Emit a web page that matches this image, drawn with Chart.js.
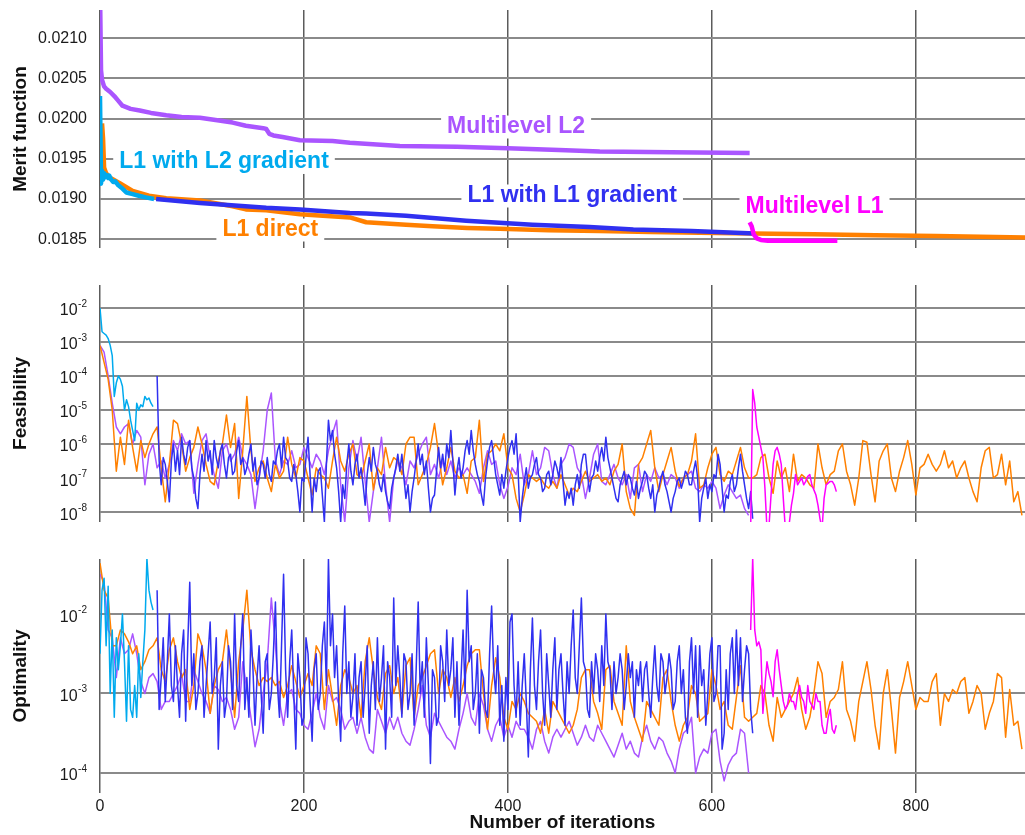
<!DOCTYPE html>
<html>
<head>
<meta charset="utf-8">
<script src="https://cdn.jsdelivr.net/npm/chart.js@4.4.1/dist/chart.umd.min.js"></script>
<style>
  html, body { margin: 0; padding: 0; background: #fff; }
  body { width: 1025px; height: 835px; overflow: hidden; position: relative; }
  canvas { position: absolute; left: 0; }
</style>
</head>
<body>
<canvas id="meritChart" width="1025" height="258" style="top:0px"></canvas>
<canvas id="feasChart" width="1025" height="257" style="top:275px"></canvas>
<canvas id="optChart" width="1025" height="286" style="top:549px"></canvas>
<script>
// ---------- series names and colours ----------
const SERIES = ['Multilevel L2', 'L1 with L2 gradient', 'L1 with L1 gradient', 'L1 direct', 'Multilevel L1'];
const COLORS = ['#aa55ff', '#00aaee', '#3030f0', '#ff8000', '#ff00ff'];

// ---------- axis ticks ----------
const iterTicks = [0, 200, 400, 600, 800];
const meritTicks = [0.0185, 0.0190, 0.0195, 0.0200, 0.0205, 0.0210];
const feasTickPowers = [-8, -7, -6, -5, -4, -3, -2];
const optTickPowers = [-4, -3, -2];

// ---------- merit function (iteration, value) ----------
const meritItersML2 = [0, 1, 2, 4, 6, 10, 14, 18, 22, 30, 39, 50, 65, 80, 98, 115, 130, 143, 160, 163, 166, 170, 179, 196, 228, 245, 294, 350, 400, 450, 490, 560, 637];
const meritML2 = [0.0216, 0.02060, 0.02048, 0.02040, 0.02037, 0.02033, 0.02028, 0.02022, 0.02016, 0.02012, 0.02010, 0.02007, 0.02004, 0.02002, 0.02001, 0.01998, 0.01995, 0.01991, 0.01988, 0.01987, 0.01981, 0.01979, 0.01977, 0.01973, 0.01972, 0.01970, 0.01966, 0.01965, 0.01963, 0.01961, 0.01959, 0.01958, 0.01957];

const meritItersL1L2 = [0, 1, 2, 3, 4, 5, 6, 8, 9, 11, 13, 15, 18, 21, 26, 32, 38, 45, 53];
const meritL1L2 = [0.02028, 0.01919, 0.01935, 0.01924, 0.01932, 0.01927, 0.01930, 0.01926, 0.01929, 0.01924, 0.01921, 0.01922, 0.01917, 0.01914, 0.01908, 0.01906, 0.01904, 0.01902, 0.01900];

const meritItersL1L1 = [55, 98, 163, 196, 245, 261, 300, 359, 424, 480, 523, 580, 642];
const meritL1L1 = [0.01900, 0.01895, 0.01889, 0.01887, 0.018825, 0.01882, 0.01879, 0.01873, 0.01868, 0.01865, 0.01862, 0.01860, 0.01857];

const meritItersL1Direct = [2, 3, 4, 6, 9, 19, 32, 48, 65, 98, 130, 143, 163, 196, 245, 261, 300, 326, 360, 392, 440, 490, 540, 588, 640, 700, 760, 820, 907];
const meritL1Direct = [0.01994, 0.01975, 0.01939, 0.01932, 0.01927, 0.01920, 0.01910, 0.01904, 0.01901, 0.01898, 0.01891, 0.01887, 0.01886, 0.01881, 0.01877, 0.01871, 0.01868, 0.01866, 0.01864, 0.01863, 0.01861, 0.01860, 0.01859, 0.01858, 0.01857, 0.01856, 0.01855, 0.01854, 0.01852];

const meritItersML1 = [637, 639, 641, 644, 648, 655, 723];
const meritML1 = [0.01871, 0.01866, 0.01856, 0.01851, 0.01849, 0.01848, 0.01848];

// ---------- sampling of the per-iteration logs: [first iteration, stride] ----------
const sampleML2 = [0, 4];
const sampleL1L2 = [0, 2];
const sampleL1L1 = [56, 2];
const sampleL1Direct = [0, 4];
const sampleML1 = [638, 2];

// ---------- feasibility, log10 of the value ----------
const feasML2 = [
  -3.1, -3.3, -4.0, -4.8, -5.5, -5.7, -5.5, -5.4, -6.0, -5.6,
  -5.8, -7.2, -6.3, -6.0, -6.7, -6.5, -7.0, -6.6, -5.9, -6.2,
  -5.7, -6.0, -5.9, -7.45, -6.6, -5.9, -5.7, -6.4, -6.9, -7.3,
  -6.2, -6.0, -6.5, -6.3, -5.8, -6.4, -6.6, -6.9, -7.9, -7.0,
  -6.2, -5.0, -4.5, -6.5, -6.9, -6.5, -6.6, -6.2, -6.7, -6.6,
  -6.1, -6.4, -6.7, -6.3, -6.5, -6.9, -6.2, -5.7, -5.3, -7.2,
  -8.3, -6.7, -5.9, -6.5, -5.8, -7.1, -8.3, -7.4, -6.7, -5.8,
  -7.2, -8.3, -7.0, -6.5, -6.7, -7.2, -6.5, -6.7, -6.3, -6.0,
  -5.8, -6.9, -6.6, -7.0, -6.5, -6.9, -6.5, -7.0, -6.7, -6.9,
  -6.7, -6.9, -7.1, -7.45, -6.7, -6.2, -6.6, -6.5, -7.2, -7.6,
  -7.25, -6.7, -6.9, -6.3, -7.2, -6.9, -6.2, -6.9, -6.7, -6.1,
  -6.2, -6.9, -7.3, -6.6, -6.4, -6.0, -6.1, -6.7, -6.9, -7.6,
  -7.0, -6.3, -6.0, -7.1, -7.2, -6.9, -6.6, -7.0, -7.2, -6.9,
  -7.6, -6.7, -6.6, -7.4, -6.9, -7.1, -6.7, -7.0, -6.9, -7.2,
  -6.9, -7.0, -7.3, -7.0, -6.9, -6.8, -7.3, -7.4, -7.2, -7.3,
  -7.1, -7.3, -7.9, -7.5, -7.2, -7.4, -7.6, -7.5, -7.9, -8.1
];
const feasL1L2 = [
  -2.0, -2.7, -2.75, -2.8, -2.9, -3.1, -3.4, -4.6, -4.2, -4.0,
  -4.1, -4.3, -5.0, -4.7, -4.9, -5.3, -5.6, -5.9, -4.8, -5.0,
  -4.85, -4.9, -4.6, -4.7, -4.65, -4.8, -4.9
];
const feasL1L1 = [
  -4.0, -6.5, -7.2, -6.4, -6.6, -7.1, -7.7, -6.5, -6.0, -6.8,
  -6.2, -6.9, -5.8, -6.3, -6.6, -6.1, -5.9, -6.7, -7.0, -7.6,
  -7.9, -6.9, -6.3, -6.8, -5.9, -6.5, -6.2, -6.9, -5.9, -6.4,
  -6.7, -6.2, -6.0, -6.6, -7.0, -6.4, -6.3, -6.9, -6.8, -6.2,
  -5.9, -6.6, -6.4, -6.9, -6.7, -6.3, -6.0, -6.8, -6.4, -7.2,
  -7.0, -6.5, -6.6, -7.0, -6.4, -6.9, -7.1, -6.5, -6.6, -6.2,
  -6.0, -6.7, -5.8, -6.4, -6.5, -7.0, -7.1, -6.6, -6.9, -7.4,
  -8.0, -7.0, -7.1, -6.4, -5.8, -6.9, -8.0, -7.0, -7.4, -6.8,
  -6.7, -7.5, -8.3, -6.6, -5.3, -5.9, -5.6, -6.3, -6.7, -7.4,
  -8.3, -7.2, -7.6, -6.6, -6.0, -6.8, -7.2, -6.6, -6.3, -7.0,
  -6.7, -7.2, -7.8, -6.9, -6.4, -6.8, -6.1, -6.6, -6.8, -7.2,
  -7.4, -6.9, -7.4, -7.7, -7.9, -7.3, -7.0, -6.7, -6.3, -6.8,
  -6.3, -7.0, -7.6, -7.2, -8.0, -7.4, -7.0, -6.5, -6.0, -6.6,
  -6.3, -6.9, -6.5, -7.3, -8.0, -7.6, -7.5, -6.8, -6.1, -6.7,
  -6.3, -6.8, -6.0, -6.4, -5.6, -6.5, -7.5, -6.8, -6.4, -7.0,
  -6.7, -6.2, -5.9, -6.3, -5.6, -6.2, -6.6, -6.9, -7.1, -7.5,
  -7.8, -7.0, -6.5, -6.1, -5.9, -6.4, -6.9, -7.2, -7.5, -6.9,
  -7.3, -6.8, -6.4, -6.1, -5.9, -6.3, -5.7, -6.8, -8.3, -7.6,
  -7.1, -6.7, -7.3, -7.0, -6.9, -6.6, -6.4, -6.9, -7.0, -7.4,
  -7.3, -6.9, -6.8, -7.2, -6.9, -6.5, -6.7, -7.0, -6.4, -7.1,
  -7.8, -7.4, -7.6, -7.3, -7.8, -7.2, -6.9, -7.3, -6.6, -6.3,
  -6.3, -6.9, -7.4, -7.0, -6.9, -6.5, -6.8, -6.4, -6.1, -6.5,
  -5.8, -6.4, -6.7, -7.0, -7.3, -7.6, -7.7, -7.2, -7.0, -6.8,
  -7.2, -6.9, -7.0, -7.3, -7.5, -7.1, -7.6, -7.3, -7.1, -6.8,
  -6.9, -7.3, -7.6, -7.2, -8.0, -7.5, -7.3, -7.0, -6.8, -7.2,
  -7.4, -7.7, -8.0, -7.6, -7.4, -7.1, -7.0, -7.3, -7.1, -6.8,
  -6.9, -7.2, -7.2, -6.8, -6.5, -7.0, -8.3, -7.6, -7.3, -7.0,
  -7.6, -7.2, -7.4, -6.9, -7.0, -6.3, -6.6, -7.3, -8.0, -7.5,
  -7.6, -7.1, -6.9, -7.4, -7.2, -6.7, -6.3, -6.8, -7.2, -7.6,
  -7.9, -7.4, -8.2
];
const feasL1Direct = [
  -3.1, -3.6, -4.1, -5.0, -6.8, -5.8, -6.6, -5.3, -6.1, -6.8,
  -5.9, -6.4, -6.0, -5.7, -5.5, -6.7, -7.7, -6.6, -5.3, -5.4,
  -6.0, -6.8, -6.4, -6.1, -5.5, -6.0, -6.6, -7.1, -7.2, -6.5,
  -6.0, -5.15, -6.1, -5.4, -7.6, -6.2, -4.6, -6.2, -7.1, -6.7,
  -6.5, -7.0, -7.4, -6.6, -7.0, -6.8, -5.8, -6.6, -7.0, -6.4,
  -6.5, -7.0, -7.5, -6.7, -6.9, -7.0, -7.3, -6.5, -5.8, -6.5,
  -6.8, -6.3, -6.0, -6.9, -7.0, -6.5, -6.0, -7.35, -6.7, -6.9,
  -6.1, -6.7, -6.4, -6.5, -6.9, -6.0, -5.8, -5.8, -7.2, -6.9,
  -6.6, -6.1, -5.4, -6.3, -7.2, -6.7, -6.1, -6.8, -7.0, -6.9,
  -7.45, -6.5, -6.4, -5.3, -7.1, -6.3, -6.2, -6.0, -6.2, -5.7,
  -6.7, -6.9, -7.6, -8.0, -7.5, -6.9, -7.0, -7.1, -7.0, -7.2,
  -7.3, -7.1, -7.3, -6.9, -7.2, -7.5, -7.3, -7.4, -7.1, -6.8,
  -7.1, -7.0, -6.9, -7.1, -7.0, -7.2, -6.8, -6.6, -6.0, -7.4,
  -7.9, -8.1, -6.6, -6.4, -6.0, -5.6, -6.7, -7.4, -6.9, -6.5,
  -6.1, -6.8, -7.25, -7.0, -6.9, -6.5, -5.7, -7.3, -7.2, -6.7,
  -6.3, -6.1, -6.9, -7.1, -6.8, -6.9, -6.5, -6.1, -6.7, -7.0,
  -7.0, -6.9, -6.4, -6.3, -7.0, -7.45, -6.5, -7.0, -6.7, -7.4,
  -6.3, -7.1, -6.9, -7.0, -7.2, -7.3, -6.0, -6.7, -7.2, -6.9,
  -6.8, -6.2, -6.0, -6.8, -7.2, -7.8, -7.0, -5.9, -5.95, -6.9,
  -7.7, -6.5, -6.2, -6.0, -7.0, -7.4, -6.8, -6.4, -5.9, -6.6,
  -7.5, -6.7, -6.6, -6.3, -6.6, -6.8, -6.6, -6.2, -6.7, -6.5,
  -7.0, -6.7, -6.5, -7.0, -7.4, -7.7, -6.7, -6.2, -6.1, -7.0,
  -6.9, -6.3, -7.2, -6.5, -7.7, -7.4, -8.1
];
const feasML1 = [
  -8.5, -4.4, -4.8, -5.5, -5.8, -6.1, -6.4, -7.3, -8.5, -8.4,
  -7.5, -6.6, -6.2, -6.1, -6.3, -6.6, -7.6, -8.5, -8.5, -8.3,
  -7.8, -7.45, -6.9, -7.2, -7.1, -7.0, -7.2, -7.1, -6.95, -6.9,
  -7.2, -7.35, -7.5, -7.8, -8.2, -8.5, -7.6, -7.2, -7.15, -7.1,
  -7.1, -7.2, -7.4
];

// ---------- optimality, log10 of the value ----------
const optML2 = [
  -1.5, -1.6, -2.2, -2.3, -2.8, -2.3, -2.5, -2.45, -2.25, -2.5,
  -2.85, -3.0, -2.8, -2.75, -2.85, -3.2, -3.1, -3.1, -3.0, -2.9,
  -2.75, -3.1, -3.1, -2.7, -2.85, -3.0, -3.1, -3.25, -2.9, -2.95,
  -3.1, -3.05, -3.2, -3.45, -3.3, -2.6, -2.95, -3.3, -3.67, -3.45,
  -3.0, -2.6, -1.8, -2.4, -3.1, -3.4, -3.0, -2.95, -3.2, -3.25,
  -3.4, -3.45, -3.25, -3.0, -3.3, -3.45, -2.9, -3.1, -3.05, -3.2,
  -3.45, -3.35,
  -3.3, -3.5, -3.3, -3.55, -3.7, -3.75, -3.2, -3.35, -3.5, -3.3,
  -3.45, -3.3, -3.5, -3.6, -3.65, -3.45, -3.2, -2.9, -3.4, -3.55,
  -3.25, -3.35, -3.45, -3.55, -3.6, -3.7, -3.45, -3.25, -3.0, -3.3,
  -3.4, -3.0, -3.15, -3.45, -3.6, -3.4, -3.3, -3.55, -3.4, -3.55,
  -3.35, -3.45, -3.45, -3.55, -3.7, -3.45, -3.35, -3.6, -3.75, -3.55,
  -3.45, -3.55, -3.45, -3.35, -3.5, -3.65, -3.55, -3.4, -3.55, -3.6,
  -3.4, -3.5, -3.6, -3.7, -3.8, -3.65, -3.5, -3.7, -3.6, -3.75,
  -3.8, -3.55, -3.4, -3.6, -3.7, -3.55, -3.6, -3.75, -3.85, -4.0,
  -3.7, -3.5,
  -3.45, -3.3, -4.0, -3.8, -3.7, -3.75, -3.5, -3.45, -3.85, -4.1,
  -3.9, -3.8, -3.75, -3.45, -3.5, -4.0
];
const optL1L2 = [
  -2.5, -1.7, -1.55, -2.4, -1.65, -3.0, -2.2, -3.3, -2.3, -2.7,
  -2.4, -2.0, -2.6, -3.35, -2.4, -3.2, -3.3, -2.9, -3.3, -2.5,
  -3.05, -2.6, -2.2, -1.3, -1.7, -1.85, -1.95
];
const optL1L1 = [
  -1.7, -3.2, -2.8, -2.3, -3.1, -2.6, -2.0, -2.9, -3.1, -2.4,
  -2.9, -3.3, -2.5, -2.2, -3.35, -2.4, -1.6, -2.9, -2.5, -3.2,
  -3.0, -2.6, -2.4, -3.3, -2.9, -2.5, -2.1, -3.0, -2.8, -2.3,
  -3.7, -2.9, -2.6, -3.3, -3.1, -2.4, -2.6, -3.2, -2.0, -2.9,
  -3.1, -2.4, -2.0, -3.2, -2.8, -3.3, -2.2, -2.7, -3.4, -2.8,
  -2.4, -3.0, -3.5, -2.6, -2.5, -3.2, -3.0, -2.5, -1.85, -2.9,
  -3.3, -2.4, -1.5, -2.7, -3.3, -2.6, -2.2, -3.0, -3.7, -2.5,
  -2.8, -3.4, -3.3, -2.3, -2.5, -3.1, -3.6, -2.7, -2.5, -3.2,
  -3.0, -2.4, -2.1, -2.9, -1.3, -2.4, -2.0, -2.8, -2.4, -3.1,
  -3.6, -2.5, -1.9, -3.0, -2.6, -3.3,
  -3.04, -2.5, -3.4, -2.8, -2.6, -3.3, -2.9, -2.4, -3.5, -2.9,
  -2.6, -3.2, -2.3, -3.1, -2.8, -2.4, -3.7, -2.6, -2.8, -3.3,
  -1.8, -2.9, -2.4, -2.8, -3.3, -2.5, -2.6, -3.2, -3.0, -2.5,
  -3.4, -2.7, -1.85, -3.0, -2.6, -3.3, -2.3, -2.9, -3.88, -2.7,
  -2.8, -3.4, -3.3, -2.4, -2.6, -3.1, -2.2, -2.9, -2.7, -2.3,
  -3.3, -2.6, -3.4, -2.8, -2.2, -3.0, -1.7, -2.6, -2.4, -3.2,
  -3.0, -2.5, -3.5, -2.7, -2.8, -3.2, -3.3, -2.5, -1.9, -2.7,
  -3.0, -2.4, -3.4, -2.9, -3.6, -2.8, -3.2, -2.1, -2.0, -2.9,
  -3.3, -2.6, -3.4, -2.9, -2.5, -3.1, -3.8, -2.7, -2.05, -2.9,
  -3.2, -2.6, -2.2, -3.0, -3.4, -2.5, -2.9, -3.3, -2.7, -2.3,
  -3.2, -2.7, -2.5, -3.0, -3.4, -2.6, -3.0, -2.4, -1.95, -2.8,
  -3.0, -2.4, -1.8, -2.6, -2.7, -3.2, -3.3, -2.6, -3.0, -2.5,
  -2.7, -3.1, -2.4, -2.9, -2.0, -2.6, -2.7, -3.2, -2.6, -3.0,
  -2.8, -2.5, -2.7, -3.2, -2.9, -2.5, -2.8, -2.6, -3.3, -2.7,
  -2.9, -2.6, -3.1, -2.7, -2.6, -3.0, -3.3, -2.8, -2.4, -2.9,
  -3.1, -2.5, -2.6, -3.0, -2.8, -2.5, -2.7, -3.2, -3.1, -2.6,
  -2.4, -3.0, -2.7, -3.3, -3.5, -2.6, -2.3, -3.0, -2.4, -3.3,
  -2.4, -2.9, -2.7, -3.4, -3.0, -2.5, -2.3, -3.1, -3.0, -2.4,
  -2.4, -3.7, -3.5, -2.7, -3.2, -2.5, -2.3, -3.0, -2.2, -2.9,
  -2.3, -3.1, -2.7, -2.4, -2.5, -3.2, -3.5
];
const optL1Direct = [
  -1.36, -1.7, -1.8, -2.4, -2.4, -2.2, -2.25, -2.35, -2.5, -2.4,
  -2.7, -2.6, -2.45, -2.4, -2.3, -2.7, -2.85, -2.45, -2.3, -2.6,
  -2.8, -2.7, -3.2, -2.9, -2.25, -2.4, -2.7, -3.25, -2.9, -2.7,
  -2.6, -2.2, -2.7, -3.3, -2.6, -2.2, -1.7, -2.45, -2.7, -2.9,
  -2.8, -2.85, -2.8, -2.9, -2.85, -3.05, -2.9, -2.65, -2.85, -3.05,
  -2.9, -2.75, -2.9, -2.4, -2.5, -3.2, -2.7, -3.05, -3.4, -2.9,
  -2.7, -2.8,
  -3.0, -2.9, -3.3, -2.6, -2.3, -2.7, -3.05, -3.2, -2.75, -2.65,
  -3.0, -2.8, -3.25, -2.65, -2.55, -3.3, -2.9, -2.8, -2.65, -2.5,
  -2.45, -3.0, -2.7, -2.8, -3.05, -2.8, -3.1, -2.9, -2.65, -2.5,
  -2.45, -2.45, -3.0, -3.45, -2.9, -2.55, -2.8, -3.3, -3.45, -3.1,
  -3.2, -3.0, -3.1, -3.25, -3.3, -3.35, -3.5, -3.2, -3.5, -3.1,
  -3.2, -3.3, -3.4, -3.5, -3.4, -3.2, -2.8, -2.7, -2.7, -3.1,
  -3.25, -3.45, -2.7, -2.65, -3.1, -3.25, -3.4, -2.4, -3.1, -3.3,
  -3.45, -3.6, -3.1, -3.2, -3.3, -3.4, -2.8, -2.7, -3.1, -3.4,
  -3.6,
  -3.4, -3.3, -2.9, -3.0, -3.35, -3.3, -3.25, -2.7, -2.9, -3.2,
  -3.1, -3.4, -3.45, -3.05, -2.65, -3.3, -3.35, -3.3, -3.25, -2.9,
  -3.0, -3.4, -3.6, -3.05, -3.3, -3.2, -3.1, -3.0, -2.8, -3.2,
  -3.45, -3.3, -3.0, -2.6, -2.75, -3.3, -3.1, -3.05, -2.95, -2.6,
  -3.2, -3.35, -3.6, -3.1, -2.85, -2.6, -2.95, -3.4, -3.7, -3.0,
  -2.7, -3.2, -3.75, -3.05, -2.85, -2.6, -2.9, -3.2, -3.05, -3.1,
  -3.1, -2.85, -2.75, -3.4, -3.0, -3.1, -2.95, -3.0, -2.85, -2.8,
  -3.25, -3.1, -2.9, -3.0, -3.45, -3.25, -3.1, -2.75, -2.8, -3.55,
  -2.95, -3.4, -3.35, -3.7
];
const optML1 = [
  -2.2, -1.3, -2.2, -2.4, -2.35, -2.45, -3.25, -2.9, -2.6, -2.75,
  -2.85, -3.04, -2.6, -2.45, -2.7, -2.9, -3.1, -3.2, -3.15, -3.0,
  -3.1, -3.1, -3.2, -3.0, -2.9, -3.05, -3.1, -3.25, -2.9, -3.1,
  -3.15, -3.2, -3.0, -3.1, -3.1, -3.4, -3.5, -3.5, -3.3, -3.2,
  -3.45, -3.5, -3.4
];

// ---------- text placed inside the merit panel: [iteration, merit] of the label centre ----------
const tagSpots = [
  { series: 0, iter: 408, merit: 0.019901 },
  { series: 1, iter: 121.6, merit: 0.019460 },
  { series: 2, iter: 463, merit: 0.019043 },
  { series: 3, iter: 167, merit: 0.018620 },
  { series: 4, iter: 700.6, merit: 0.018900 }
];

// ---------- helpers ----------
const FONT = '"Liberation Sans", Arial, Helvetica, sans-serif';
Chart.defaults.font.family = FONT;
Chart.defaults.color = '#1a1a1a';

function pairs(xs, ys) { return ys.map((v, i) => ({ x: xs[i], y: v })); }
function sampled(sample, logs) {
  return logs.map((e, i) => ({ x: sample[0] + i * sample[1], y: Math.pow(10, e) }));
}

// dataset order: index 0 is painted last (on top)
const DRAW_ORDER = [4, 2, 1, 3, 0];

function makeDatasets(seriesData, width) {
  return DRAW_ORDER.map(k => ({
    label: SERIES[k],
    data: seriesData[k],
    borderColor: COLORS[k],
    backgroundColor: COLORS[k],
    borderWidth: width,
    pointRadius: 0,
    tension: 0,
    fill: false,
    borderJoinStyle: 'round'
  }));
}

function fixedBox(size, horizontal) {
  return function (scale) {
    if (horizontal) scale.height = size; else scale.width = size;
    scale.paddingLeft = 0; scale.paddingRight = 0;
    scale.paddingTop = 0; scale.paddingBottom = 0;
  };
}

function xAxis(showLabels) {
  return {
    type: 'linear', min: 0, max: 907,
    afterBuildTicks: s => { s.ticks = iterTicks.map(v => ({ value: v })); },
    afterFit: fixedBox(showLabels ? 42 : 0, true),
    grid: { color: '#5c5c5c', lineWidth: 1.5, drawTicks: false },
    border: { display: false },
    ticks: { display: showLabels, padding: 4, font: { size: 16 }, color: '#1a1a1a' },
    title: showLabels ? { display: true, text: 'Number of iterations', font: { size: 19, weight: 'bold' }, color: '#111', padding: { top: 0, bottom: 1 } } : { display: false }
  };
}

function yTitle(text) {
  return { display: true, text: text, font: { size: 19, weight: 'bold' }, color: '#111', padding: { top: 9, bottom: 0 } };
}

// superscript power-of-ten tick labels for the log panels
const powerLabels = {
  id: 'powerLabels',
  afterDraw(chart) {
    const s = chart.scales.y;
    if (s.type !== 'logarithmic') return;
    const ctx = chart.ctx;
    ctx.save();
    ctx.fillStyle = '#1a1a1a';
    ctx.textAlign = 'right';
    ctx.textBaseline = 'alphabetic';
    const right = s.right - 13;
    s.ticks.forEach(t => {
      const y = s.getPixelForValue(t.value);
      const p = Math.round(Math.log10(t.value));
      const sup = '-' + Math.abs(p);
      ctx.font = '10px ' + FONT;
      const w = ctx.measureText(sup).width;
      ctx.fillText(sup, right, y - 1);
      ctx.font = '16px ' + FONT;
      ctx.fillText('10', right - w - 0.5, y + 7.5);
    });
    ctx.restore();
  }
};

// series names written inside the merit panel on a white patch
const seriesTags = {
  id: 'seriesTags',
  beforeDatasetsDraw(chart) {
    const { ctx, scales: { x, y } } = chart;
    ctx.save();
    ctx.font = 'bold 23px ' + FONT;
    ctx.textAlign = 'center';
    ctx.textBaseline = 'middle';
    tagSpots.forEach(t => {
      const px = x.getPixelForValue(t.iter);
      const py = y.getPixelForValue(t.merit);
      const name = SERIES[t.series];
      const w = ctx.measureText(name).width;
      ctx.fillStyle = '#ffffff';
      ctx.fillRect(px - w / 2 - 6, py - 11, w + 12, 23);
      ctx.fillStyle = COLORS[t.series];
      ctx.fillText(name, px, py);
    });
    ctx.restore();
  }
};

const common = {
  responsive: false,
  animation: false,
  devicePixelRatio: 1,
  events: [],
  plugins: { legend: { display: false }, tooltip: { enabled: false } }
};

// ---------- merit function panel ----------
new Chart(document.getElementById('meritChart'), {
  type: 'line',
  data: {
    datasets: makeDatasets([
      pairs(meritItersML2, meritML2),
      pairs(meritItersL1L2, meritL1L2),
      pairs(meritItersL1L1, meritL1L1),
      pairs(meritItersL1Direct, meritL1Direct),
      pairs(meritItersML1, meritML1)
    ], 4.5)
  },
  options: Object.assign({}, common, {
    layout: { padding: { top: 10, bottom: 10, left: 0, right: 0 } },
    scales: {
      x: xAxis(false),
      y: {
        type: 'linear', min: 0.01839, max: 0.02135,
        afterBuildTicks: s => { s.ticks = meritTicks.map(v => ({ value: v })); },
        afterFit: fixedBox(100, false),
        grid: { color: '#8a8a8a', lineWidth: 2, drawTicks: false },
        border: { display: false },
        ticks: { padding: 13, font: { size: 16 }, color: '#1a1a1a', callback: v => Number(v).toFixed(4) },
        title: yTitle('Merit function')
      }
    }
  }),
  plugins: [seriesTags]
});

// ---------- feasibility panel ----------
new Chart(document.getElementById('feasChart'), {
  type: 'line',
  data: {
    datasets: makeDatasets([
      sampled(sampleML2, feasML2),
      sampled(sampleL1L2, feasL1L2),
      sampled(sampleL1L1, feasL1L1),
      sampled(sampleL1Direct, feasL1Direct),
      sampled(sampleML1, feasML1)
    ], 1.5)
  },
  options: Object.assign({}, common, {
    layout: { padding: { top: 10, bottom: 10, left: 0, right: 0 } },
    scales: {
      x: xAxis(false),
      y: {
        type: 'logarithmic', min: Math.pow(10, -8.294), max: Math.pow(10, -1.324),
        afterBuildTicks: s => { s.ticks = feasTickPowers.map(p => ({ value: Math.pow(10, p) })); },
        afterFit: fixedBox(100, false),
        grid: { color: '#8a8a8a', lineWidth: 2, drawTicks: false },
        border: { display: false },
        ticks: { callback: () => '' },
        title: yTitle('Feasibility')
      }
    }
  }),
  plugins: [powerLabels]
});

// ---------- optimality panel ----------
new Chart(document.getElementById('optChart'), {
  type: 'line',
  data: {
    datasets: makeDatasets([
      sampled(sampleML2, optML2),
      sampled(sampleL1L2, optL1L2),
      sampled(sampleL1L1, optL1L1),
      sampled(sampleL1Direct, optL1Direct),
      sampled(sampleML1, optML1)
    ], 1.5)
  },
  options: Object.assign({}, common, {
    layout: { padding: { top: 10, bottom: 0, left: 0, right: 0 } },
    scales: {
      x: xAxis(true),
      y: {
        type: 'logarithmic', min: Math.pow(10, -4.252), max: Math.pow(10, -1.308),
        afterBuildTicks: s => { s.ticks = optTickPowers.map(p => ({ value: Math.pow(10, p) })); },
        afterFit: fixedBox(100, false),
        grid: { color: '#8a8a8a', lineWidth: 2, drawTicks: false },
        border: { display: false },
        ticks: { callback: () => '' },
        title: yTitle('Optimality')
      }
    }
  }),
  plugins: [powerLabels]
});
</script>
</body>
</html>
